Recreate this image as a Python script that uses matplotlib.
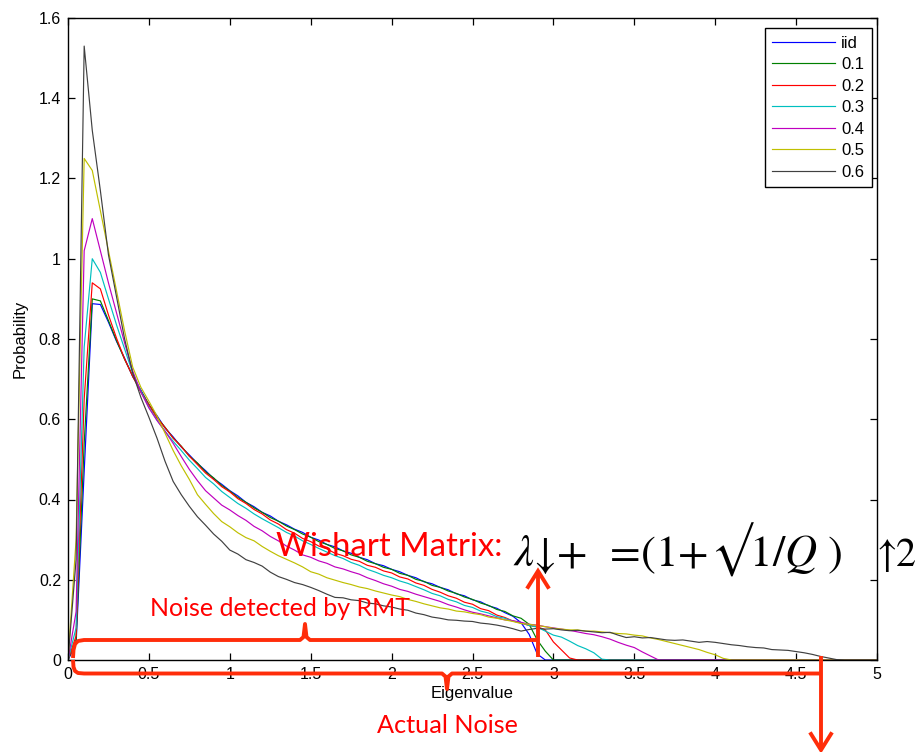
import numpy as np
import matplotlib
matplotlib.use('Agg')
import matplotlib.pyplot as plt
from matplotlib.ticker import FuncFormatter, MultipleLocator

plt.rcParams['font.family'] = ['Liberation Sans', 'DejaVu Sans']

# ---------------- data ----------------
eigenvalue = np.round(np.linspace(0, 5, 101), 2)   # histogram bin positions (step 0.05)
series_labels = ['iid', '0.1', '0.2', '0.3', '0.4', '0.5', '0.6']

prob_iid = [0, 0.04, 0.47, 0.888, 0.886, 0.842, 0.794, 0.752, 0.706, 0.673,
            0.636, 0.609, 0.578, 0.556, 0.531, 0.511, 0.490, 0.472, 0.452, 0.438,
            0.422, 0.409, 0.393, 0.382, 0.368, 0.359, 0.346, 0.337, 0.326, 0.318,
            0.306, 0.299, 0.288, 0.282, 0.272, 0.266, 0.256, 0.250, 0.240, 0.235,
            0.226, 0.220, 0.211, 0.205, 0.195, 0.190, 0.181, 0.175, 0.165, 0.160,
            0.150, 0.145, 0.135, 0.129, 0.118, 0.109, 0.093, 0.064, 0.015, 0,
            0, 0, 0, 0, 0, 0, 0, 0, 0, 0,
            0, 0, 0, 0, 0, 0, 0, 0, 0, 0,
            0, 0, 0, 0, 0, 0, 0, 0, 0, 0,
            0, 0, 0, 0, 0, 0, 0, 0, 0, 0, 0]

prob_01 = [0, 0.05, 0.54, 0.90, 0.895, 0.846, 0.796, 0.749, 0.708, 0.670,
           0.637, 0.604, 0.580, 0.553, 0.533, 0.508, 0.491, 0.469, 0.454, 0.435,
           0.421, 0.405, 0.393, 0.379, 0.368, 0.355, 0.346, 0.334, 0.325, 0.314,
           0.306, 0.295, 0.288, 0.278, 0.272, 0.262, 0.256, 0.246, 0.240, 0.231,
           0.226, 0.216, 0.211, 0.201, 0.196, 0.186, 0.181, 0.172, 0.166, 0.157,
           0.151, 0.142, 0.136, 0.126, 0.121, 0.110, 0.104, 0.089, 0.050, 0.022,
           0, 0, 0, 0, 0, 0, 0, 0, 0, 0,
           0, 0, 0, 0, 0, 0, 0, 0, 0, 0,
           0, 0, 0, 0, 0, 0, 0, 0, 0, 0,
           0, 0, 0, 0, 0, 0, 0, 0, 0, 0, 0]

prob_02 = [0, 0.06, 0.65, 0.94, 0.925, 0.860, 0.802, 0.750, 0.707, 0.668,
           0.636, 0.604, 0.579, 0.553, 0.532, 0.508, 0.487, 0.466, 0.450, 0.432,
           0.419, 0.402, 0.390, 0.375, 0.364, 0.349, 0.339, 0.325, 0.316, 0.303,
           0.295, 0.284, 0.277, 0.266, 0.260, 0.251, 0.246, 0.236, 0.231, 0.222,
           0.217, 0.207, 0.202, 0.192, 0.186, 0.176, 0.169, 0.160, 0.154, 0.144,
           0.139, 0.128, 0.123, 0.112, 0.106, 0.097, 0.092, 0.086, 0.083, 0.075,
           0.045, 0.025, 0.005, 0, 0, 0, 0, 0, 0, 0,
           0, 0, 0, 0, 0, 0, 0, 0, 0, 0,
           0, 0, 0, 0, 0, 0, 0, 0, 0, 0,
           0, 0, 0, 0, 0, 0, 0, 0, 0, 0, 0]

prob_03 = [0, 0.08, 0.78, 1.00, 0.966, 0.900, 0.835, 0.775, 0.715, 0.670,
           0.630, 0.598, 0.570, 0.545, 0.522, 0.498, 0.477, 0.455, 0.439, 0.420,
           0.405, 0.390, 0.378, 0.364, 0.352, 0.341, 0.330, 0.318, 0.309, 0.297,
           0.288, 0.278, 0.269, 0.260, 0.253, 0.243, 0.236, 0.226, 0.219, 0.211,
           0.205, 0.197, 0.191, 0.183, 0.175, 0.166, 0.160, 0.151, 0.145, 0.136,
           0.131, 0.122, 0.117, 0.108, 0.104, 0.097, 0.093, 0.086, 0.082, 0.072,
           0.062, 0.057, 0.047, 0.036, 0.028, 0.018, 0.002, 0, 0, 0,
           0, 0, 0, 0, 0, 0, 0, 0, 0, 0,
           0, 0, 0, 0, 0, 0, 0, 0, 0, 0,
           0, 0, 0, 0, 0, 0, 0, 0, 0, 0, 0]

prob_04 = [0, 0.12, 1.02, 1.10, 1.02, 0.940, 0.865, 0.790, 0.720, 0.668,
           0.628, 0.597, 0.570, 0.540, 0.507, 0.475, 0.447, 0.422, 0.404, 0.386,
           0.374, 0.360, 0.348, 0.333, 0.322, 0.308, 0.297, 0.284, 0.274, 0.262,
           0.256, 0.247, 0.241, 0.232, 0.227, 0.220, 0.214, 0.205, 0.198, 0.190,
           0.184, 0.176, 0.171, 0.164, 0.158, 0.152, 0.146, 0.138, 0.132, 0.125,
           0.119, 0.115, 0.110, 0.105, 0.100, 0.098, 0.094, 0.089, 0.087, 0.083,
           0.080, 0.077, 0.074, 0.070, 0.066, 0.063, 0.058, 0.052, 0.044, 0.037,
           0.031, 0.020, 0.010, 0, 0, 0, 0, 0, 0, 0,
           0, 0, 0, 0, 0, 0, 0, 0, 0, 0,
           0, 0, 0, 0, 0, 0, 0, 0, 0, 0, 0]

prob_05 = [0, 0.30, 1.25, 1.22, 1.12, 1.02, 0.920, 0.820, 0.730, 0.680,
           0.645, 0.608, 0.565, 0.522, 0.484, 0.450, 0.412, 0.388, 0.365, 0.345,
           0.332, 0.317, 0.305, 0.297, 0.283, 0.271, 0.260, 0.251, 0.242, 0.232,
           0.220, 0.214, 0.205, 0.199, 0.193, 0.188, 0.182, 0.178, 0.172, 0.167,
           0.162, 0.158, 0.151, 0.146, 0.140, 0.135, 0.130, 0.127, 0.122, 0.120,
           0.116, 0.113, 0.107, 0.104, 0.100, 0.096, 0.091, 0.089, 0.086, 0.083,
           0.079, 0.077, 0.075, 0.075, 0.072, 0.072, 0.070, 0.068, 0.066, 0.065,
           0.062, 0.060, 0.055, 0.051, 0.046, 0.041, 0.036, 0.031, 0.026, 0.019,
           0.013, 0.004, 0, 0, 0, 0, 0, 0, 0, 0,
           0, 0, 0, 0, 0, 0, 0, 0, 0, 0, 0]

prob_06 = [0, 0.25, 1.53, 1.32, 1.17, 1.01, 0.905, 0.800, 0.715, 0.655,
           0.605, 0.553, 0.495, 0.445, 0.412, 0.383, 0.357, 0.336, 0.314, 0.296,
           0.274, 0.264, 0.250, 0.243, 0.234, 0.219, 0.208, 0.201, 0.193, 0.188,
           0.181, 0.173, 0.164, 0.156, 0.155, 0.150, 0.148, 0.142, 0.140, 0.135,
           0.132, 0.127, 0.124, 0.117, 0.113, 0.107, 0.104, 0.100, 0.099, 0.097,
           0.096, 0.092, 0.090, 0.087, 0.083, 0.078, 0.072, 0.076, 0.079, 0.077,
           0.078, 0.075, 0.073, 0.074, 0.072, 0.070, 0.068, 0.069, 0.062, 0.056,
           0.058, 0.055, 0.056, 0.053, 0.050, 0.049, 0.050, 0.047, 0.044, 0.046,
           0.044, 0.041, 0.038, 0.036, 0.033, 0.031, 0.030, 0.026, 0.025, 0.024,
           0.021, 0.018, 0.014, 0.009, 0.005, 0.001, 0, 0, 0, 0, 0]

series_values = [prob_iid, prob_01, prob_02, prob_03, prob_04, prob_05, prob_06]
series_colors = ['#0000ff', '#008000', '#ff0000', '#00bfbf', '#bf00bf', '#bfbf00', '#404040']

# formula text of the annotation, split into glyph groups
formula_main = ['\u03bb', '\u2193', '+', '=', '(', '1', '+', '\u221a', '1', '/', 'Q', ')']
formula_italic = [True, False, False, False, False, False, False, False, False, False, True, False]
formula_tail = ['\u2191', '2']

# ---------------- figure ----------------
W, H = 917, 752
fig = plt.figure(figsize=(W / 100, H / 100), dpi=100)
ax = fig.add_axes([68 / W, 1 - 660 / H, (877 - 68) / W, (660 - 18) / H])

for vals, lab, col in zip(series_values, series_labels, series_colors):
    ax.plot(eigenvalue, vals, color=col, lw=0.85, label=lab)

ax.set_xlim(0, 5)
ax.set_ylim(0, 1.6)
ax.xaxis.set_major_locator(MultipleLocator(0.5))
ax.yaxis.set_major_locator(MultipleLocator(0.2))
fmt = FuncFormatter(lambda v, p: '%g' % round(v, 2))
ax.xaxis.set_major_formatter(fmt)
ax.yaxis.set_major_formatter(fmt)
ax.tick_params(direction='in', top=True, right=True, length=5, width=0.9,
               labelsize=11.5, colors='black')
ax.tick_params(axis='x', pad=5)
ax.tick_params(axis='y', pad=5)
for s in ax.spines.values():
    s.set_linewidth(1.0)
ax.set_xlabel('Eigenvalue', fontsize=12, labelpad=3)
ax.set_ylabel('Probability', fontsize=12, labelpad=8)

leg = ax.legend(loc='upper right', bbox_to_anchor=(0.9938, 0.9844), borderaxespad=0,
                fancybox=False, edgecolor='black', framealpha=1, fontsize=12,
                handlelength=3.75, handletextpad=0.4, labelspacing=0.39, borderpad=0.45)
leg.get_frame().set_linewidth(1.0)

# ---------------- annotation overlay (pixel coordinates) ----------------
ov = fig.add_axes([0, 0, 1, 1], zorder=10)
ov.set_xlim(0, W)
ov.set_ylim(H, 0)
ov.axis('off')
ov.patch.set_alpha(0)

RED_LINE = '#ff2d0a'
RED_TEXT = '#ff0000'
lw = 2.8

# upper brace (noise detected by RMT)
ub_x = [73, 73.5, 75, 78, 84, 300, 303.5, 305, 306.5, 310, 538]
ub_y = [658, 650, 644, 641, 640, 640, 637, 624, 637, 640, 640]
ov.plot(ub_x, ub_y, color=RED_LINE, lw=lw, solid_capstyle='butt', solid_joinstyle='round')
ov.plot([538, 538], [657, 572], color=RED_LINE, lw=lw, solid_capstyle='butt')
ov.plot([528, 538, 548], [587, 571, 587], color=RED_LINE, lw=lw, solid_joinstyle='miter')

# lower brace (actual noise)
lb_x = [73, 73.5, 75, 78, 84, 442, 445.5, 447, 448.5, 452, 821]
lb_y = [660, 667, 671, 673, 673.5, 673.5, 676.5, 689, 676.5, 673.5, 673.5]
ov.plot(lb_x, lb_y, color=RED_LINE, lw=lw, solid_capstyle='butt', solid_joinstyle='round')
ov.plot([821, 821], [656, 750], color=RED_LINE, lw=lw, solid_capstyle='butt')
ov.plot([811, 821, 831], [734, 750, 734], color=RED_LINE, lw=lw, solid_joinstyle='miter')

renderer = fig.canvas.get_renderer()


def fit_text(x, y, s, width, size0=20, **kw):
    t = ov.text(x, y, s, fontsize=size0, ha='left', va='baseline', **kw)
    w = t.get_window_extent(renderer).width
    t.set_fontsize(size0 * width / w)
    return t


fit_text(150, 616, 'Noise detected by RMT', 261, color=RED_TEXT, family=['Lato', 'DejaVu Sans'])
fit_text(276, 556, 'Wishart Matrix:', 227, color=RED_TEXT, family=['Lato', 'DejaVu Sans'])
fit_text(377, 733, 'Actual Noise', 141, color=RED_TEXT, family=['Lato', 'DejaVu Sans'])


def run_text(x0, y, parts, italics, gaps, size):
    x = x0
    for ch, it, g in zip(parts, italics, gaps):
        t = ov.text(x, y, ch, fontsize=size, ha='left', va='baseline', color='black',
                    family=['STIXGeneral', 'DejaVu Serif', 'DejaVu Sans'],
                    style='italic' if it else 'normal')
        x += t.get_window_extent(renderer).width + g
    return x


main_gaps = [-1, 1, 22, 1, -1, 1, 1, -2, 1, 0, 11, 0]
run_text(514, 566, formula_main, formula_italic, main_gaps, 32)
run_text(877, 566, formula_tail, [False, False], [-2, 0], 29)

fig.savefig('out.png', dpi=100)
